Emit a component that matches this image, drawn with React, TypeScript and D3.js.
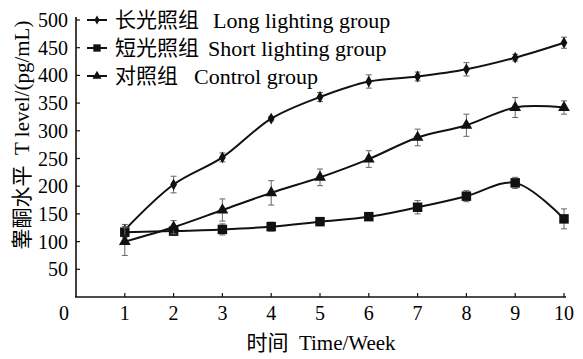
import { useEffect, useRef } from 'react'
import * as d3 from 'd3'

const weeks = [1, 2, 3, 4, 5, 6, 7, 8, 9, 10]
const longValues = [121, 203, 252, 322, 361, 389, 398, 411, 432, 459]
const longErrors = [10, 15, 8, 4, 8, 12, 8, 12, 6, 10]
const shortValues = [117, 119, 122, 127, 136, 145, 162, 182, 206, 141]
const shortErrors = [10, 8, 10, 8, 6, 6, 12, 10, 10, 18]
const controlValues = [100, 126, 157, 188, 216, 249, 288, 310, 342, 342]
const controlErrors = [25, 12, 20, 22, 15, 15, 15, 20, 18, 12]
const yTicks = [50, 100, 150, 200, 250, 300, 350, 400, 450, 500]
const xTicks = [1, 2, 3, 4, 5, 6, 7, 8, 9, 10]
const seriesNames = [
  { zh: '长光照组', en: 'Long lighting group' },
  { zh: '短光照组', en: 'Short lighting group' },
  { zh: '对照组', en: 'Control group' },
]

const width = 583
const height = 359
const serif = '"Liberation Serif", "Times New Roman", serif'
const cjk = '"Noto Sans CJK SC", sans-serif'

export default function App() {
  const svgRef = useRef<SVGSVGElement>(null)

  useEffect(() => {
    if (!svgRef.current) return
    const svg = d3.select(svgRef.current)
    svg.selectAll('*').remove()

    const x = d3.scaleLinear().domain([0, 10]).range([76, 564])
    const y = d3.scaleLinear().domain([0, 500]).range([297, 20])

    // axes
    svg.append('line')
      .attr('x1', x(0)).attr('x2', x(0))
      .attr('y1', y(0)).attr('y2', y(500) - 3)
      .attr('stroke', '#111').attr('stroke-width', 1.6)
    svg.append('line')
      .attr('x1', x(0) - 1).attr('x2', x(10) + 2)
      .attr('y1', y(0)).attr('y2', y(0))
      .attr('stroke', '#111').attr('stroke-width', 1.6)

    yTicks.forEach(t => {
      svg.append('line')
        .attr('x1', x(0)).attr('x2', x(0) + 4)
        .attr('y1', y(t)).attr('y2', y(t))
        .attr('stroke', '#111').attr('stroke-width', 1.2)
      svg.append('text')
        .attr('x', x(0) - 8).attr('y', y(t))
        .attr('dy', '0.35em')
        .attr('text-anchor', 'end')
        .style('font-family', serif).style('font-size', '20px')
        .text(t)
    })

    xTicks.forEach(t => {
      svg.append('line')
        .attr('x1', x(t)).attr('x2', x(t))
        .attr('y1', y(0)).attr('y2', y(0) - 4)
        .attr('stroke', '#111').attr('stroke-width', 1.2)
      svg.append('text')
        .attr('x', x(t)).attr('y', 320)
        .attr('text-anchor', 'middle')
        .style('font-family', serif).style('font-size', '20px')
        .text(t)
    })
    svg.append('text')
      .attr('x', 64).attr('y', 320)
      .attr('text-anchor', 'middle')
      .style('font-family', serif).style('font-size', '20px')
      .text(0)

    // axis titles
    const xt = svg.append('text')
      .attr('x', 321).attr('y', 350)
      .attr('text-anchor', 'middle')
      .style('font-size', '21px')
    xt.append('tspan').style('font-family', cjk).text('时间')
    xt.append('tspan').style('font-family', serif).text('\u00a0\u00a0Time/Week')

    const yt = svg.append('text')
      .attr('transform', `translate(29,${135}) rotate(-90)`)
      .attr('text-anchor', 'middle')
      .style('font-size', '21px')
    yt.append('tspan').style('font-family', cjk).text('睾酮水平')
    yt.append('tspan').style('font-family', serif).text('\u00a0\u00a0T level/(pg/mL)')

    const line = d3.line<number>()
      .x((_, i) => x(weeks[i]))
      .y(d => y(d))
      .curve(d3.curveCatmullRom.alpha(0.5))

    const series = [
      { values: longValues, errors: longErrors, shape: d3.symbolDiamond, size: 40 },
      { values: shortValues, errors: shortErrors, shape: d3.symbolSquare, size: 90 },
      { values: controlValues, errors: controlErrors, shape: d3.symbolTriangle, size: 60 },
    ]

    series.forEach(s => {
      // error bars
      s.values.forEach((v, i) => {
        const cx = x(weeks[i])
        const g = svg.append('g').attr('stroke', '#666').attr('stroke-width', 1)
        g.append('line').attr('x1', cx).attr('x2', cx)
          .attr('y1', y(v - s.errors[i])).attr('y2', y(v + s.errors[i]))
        g.append('line').attr('x1', cx - 3).attr('x2', cx + 3)
          .attr('y1', y(v - s.errors[i])).attr('y2', y(v - s.errors[i]))
        g.append('line').attr('x1', cx - 3).attr('x2', cx + 3)
          .attr('y1', y(v + s.errors[i])).attr('y2', y(v + s.errors[i]))
      })
      svg.append('path')
        .datum(s.values)
        .attr('fill', 'none')
        .attr('stroke', '#111')
        .attr('stroke-width', 2)
        .attr('d', line)
      svg.selectAll(null)
        .data(s.values)
        .enter().append('path')
        .attr('transform', (d, i) => `translate(${x(weeks[i])},${y(d)})`)
        .attr('d', d3.symbol(s.shape, s.size)())
        .attr('fill', '#111')
    })

    // legend
    const rows = [20, 48, 76]
    const enX = [213, 208, 194]
    seriesNames.forEach((n, i) => {
      const ly = rows[i]
      svg.append('line')
        .attr('x1', 87).attr('x2', 107)
        .attr('y1', ly).attr('y2', ly)
        .attr('stroke', '#111').attr('stroke-width', 2)
      svg.append('path')
        .attr('transform', `translate(97,${ly})`)
        .attr('d', d3.symbol(series[i].shape, series[i].size * 0.6)())
        .attr('fill', '#111')
      svg.append('text')
        .attr('x', 115).attr('y', ly)
        .attr('dy', '0.35em')
        .style('font-family', cjk).style('font-size', '21px')
        .text(n.zh)
      svg.append('text')
        .attr('x', enX[i]).attr('y', ly)
        .attr('dy', '0.35em')
        .style('font-family', serif).style('font-size', '22px')
        .text(n.en)
    })
  }, [])

  return (
    <svg
      ref={svgRef}
      width={width}
      height={height}
      style={{ position: 'absolute', left: 0, top: 0, background: '#fff' }}
    />
  )
}
